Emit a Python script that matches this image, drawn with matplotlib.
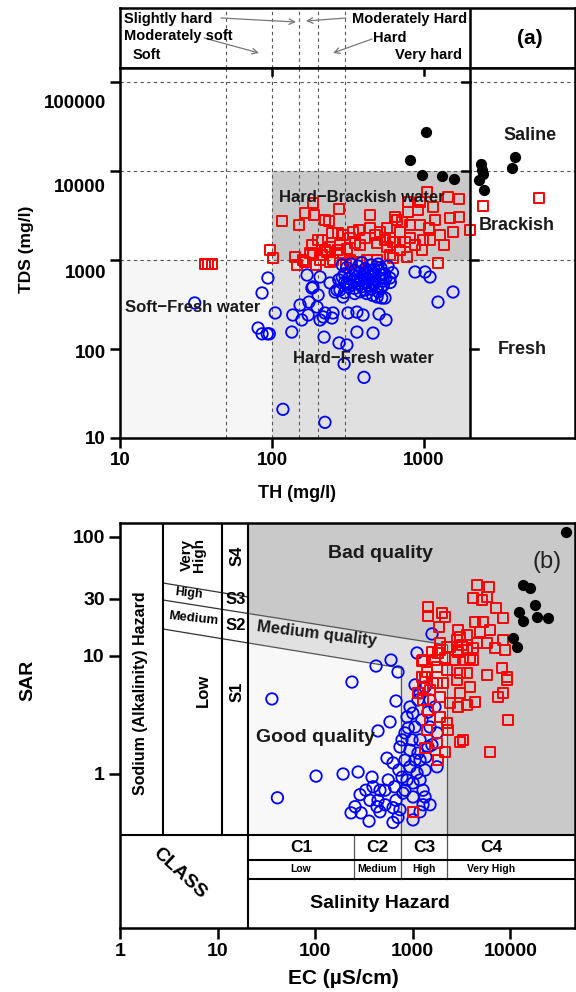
import matplotlib
matplotlib.use("Agg")
import matplotlib.pyplot as plt
from matplotlib.patches import Rectangle, Polygon
from matplotlib.ticker import NullLocator, FixedLocator, FixedFormatter
from matplotlib.transforms import blended_transform_factory, ScaledTranslation
import numpy as np

plt.rcParams['font.family'] = ['Liberation Sans', 'DejaVu Sans']
plt.rcParams['font.weight'] = 'bold'

# ---------------- Panel (a) data: TH (mg/l), TDS (mg/l) ----------------
a_blue = [(31, 329), (86, 426), (94, 628), (105, 254), (81, 172), (86, 148), (93, 148), (96, 148),
          (135, 155), (137, 241), (153, 312), (157, 212), (170, 678), (175, 337), (173, 241), (186, 498),
          (207, 644), (201, 404), (207, 212), (220, 136), (223, 254), (248, 223), (252, 254), (241, 552),
          (260, 437), (276, 117), (311, 111), (298, 68), (316, 254), (362, 155), (362, 260), (397, 241),
          (462, 151), (403, 48), (506, 247), (562, 212), (491, 384), (554, 374), (597, 628), (873, 733),
          (1016, 733), (1095, 644), (1236, 337), (1552, 437), (118, 21), (223, 15),
          (183, 484), (198, 296), (217, 229), (268, 460), (293, 384), (527, 374),
          (290, 880), (310, 820), (330, 900), (350, 760), (370, 850), (390, 930), (410, 800), (430, 720),
          (450, 880), (470, 780), (500, 900), (520, 820), (550, 700), (580, 850), (300, 700), (320, 620),
          (340, 680), (360, 600), (380, 720), (400, 640), (420, 560), (440, 660), (460, 600), (480, 700),
          (510, 620), (540, 580), (300, 560), (330, 520), (350, 480), (370, 540), (390, 500), (410, 460),
          (430, 520), (450, 470), (470, 540), (490, 500), (520, 480), (280, 460), (300, 430), (320, 500),
          (345, 580), (365, 660), (385, 590), (405, 700), (425, 620), (445, 760), (465, 690), (485, 830),
          (505, 760), (530, 680), (560, 620), (290, 640), (310, 540), (275, 600), (350, 420), (380, 440),
          (420, 420), (460, 400), (500, 440), (540, 520), (600, 560), (620, 720)]
a_red = [(116, 2740), (151, 2475), (186, 4370), (189, 3205), (223, 2815), (237, 2740), (276, 3745),
         (165, 3375), (97, 1295), (102, 1052), (213, 1680), (248, 2010), (272, 2010), (293, 1910),
         (341, 2065), (352, 1550), (280, 1475), (241, 1400), (441, 3205), (441, 2290), (476, 1910),
         (571, 2290), (491, 1550), (554, 1680), (645, 3040), (664, 2815), (571, 1400), (625, 1595),
         (750, 1595), (809, 1765), (785, 4490), (914, 3650), (941, 4490), (1047, 5810), (1146, 3950),
         (785, 3460), (809, 2475), (941, 2475), (1079, 2290), (985, 1680), (970, 1295), (1438, 5100),
         (1698, 4850), (1483, 2965), (1698, 3040), (2009, 2175), (1236, 925), (142, 1080), (178, 1200),
         (160, 1000), (207, 1000), (252, 1000), (326, 1000), (422, 1000), (491, 1000), (625, 1052),
         (773, 1080), (36, 902), (38, 902), (40, 902), (146, 880), (186, 1200), (213, 1140), (230, 1230),
         (272, 1295), (336, 950), (2445, 4050), (5715, 4980), (165, 950), (195, 880), (241, 950),
         (305, 880), (379, 950), (183, 1475), (223, 1295), (311, 1340), (379, 1475), (409, 1765),
         (326, 1765), (201, 1680), (372, 2175), (514, 2065), (597, 1765), (695, 2065), (720, 2700),
         (873, 1475), (1095, 1680), (1274, 1910), (1360, 1475), (1180, 2815), (1550, 2065), (695, 1295),
         (597, 1140), (280, 1200)]
a_black = [(1031, 27400), (809, 13300), (970, 9020), (1313, 8790), (1575, 8130), (2370, 12000),
           (2410, 10270), (2302, 7925), (2483, 6118), (2445, 9250), (3971, 14350), (3793, 10800)]

th_class_bounds = [50, 100, 150, 200, 300]
tds_class_bounds = [1000, 10000, 100000]
th_limit = 2000
a_xticks = [10, 100, 1000]
a_yticks = [10, 100, 1000, 10000, 100000]

# ---------------- Panel (b) data: EC (uS/cm), SAR ----------------
b_blue = [(36, 4.30), (41, 0.63), (238, 5.97), (420, 8.15), (598, 9.16), (705, 7.26), (673, 4.13),
          (584, 2.75), (440, 2.31), (102, 0.96), (193, 1.0), (275, 1.04), (1573, 15.2), (1104, 10.5),
          (1054, 5.64), (288, 0.67), (233, 0.47), (295, 0.47), (356, 0.40), (256, 0.53), (430, 0.53),
          (519, 0.55), (627, 0.52), (627, 0.39), (705, 0.43), (382, 0.94), (391, 0.78), (461, 0.73),
          (544, 1.36), (627, 1.24), (739, 1.69), (832, 2.22), (873, 3.03), (936, 3.68), (1186, 4.83),
          (1334, 5.42), (1500, 4.21), (1687, 3.68), (1770, 2.22), (1770, 1.15), (1432, 1.69), (1130, 1.50),
          (936, 1.15), (775, 0.94), (1005, 0.84), (1273, 0.73), (1334, 0.64), (1273, 0.55), (1005, 0.64),
          (794, 0.69), (873, 0.89), (1104, 1.02), (1186, 1.31), (982, 1.94), (1054, 2.49), (1186, 1.94),
          (1500, 2.49), (832, 1.31), (936, 1.59), (1054, 1.31), (1334, 1.08), (1186, 0.89), (832, 0.73),
          (673, 0.60), (739, 0.50), (519, 0.73), (440, 0.60), (560, 0.89), (720, 1.08), (775, 1.94),
          (900, 2.45), (1000, 3.26), (1130, 4.21), (1240, 2.86), (1430, 3.33), (1570, 1.76), (1360, 1.39),
          (650, 0.78), (461, 0.48), (364, 0.60), (330, 0.73), (1005, 0.41), (1186, 0.48), (1500, 0.55)]
b_red = [(4545, 39.4), (6035, 37.8), (4140, 30.6), (5117, 29.4), (5760, 31.2), (7115, 25.2), (1432, 25.7),
         (1432, 21.5), (1990, 22.8), (2137, 21.1), (1853, 17.4), (2904, 16.4), (4335, 19.2), (5240, 19.2),
         (6180, 16.4), (8390, 20.7), (4884, 15.8), (3589, 14.9), (2837, 13.5), (3045, 14.3), (4545, 12.7),
         (5760, 12.7), (6950, 11.6), (8810, 11.1), (8390, 13.5), (4140, 11.6), (3589, 11.1), (2904, 10.7),
         (2239, 11.8), (1899, 12.7), (1811, 10.5), (1573, 10.7), (1273, 9.16), (1687, 9.16), (2137, 9.5),
         (2705, 9.16), (3267, 9.16), (3854, 9.5), (8200, 7.85), (9230, 6.59), (5760, 6.84), (3045, 7.11),
         (2239, 7.54), (1770, 8.0), (1397, 7.26), (1242, 6.59), (1242, 9.0), (1899, 11.1), (2404, 11.8),
         (3192, 12.3), (4140, 9.16), (9230, 6.21), (7460, 4.47), (8390, 4.83), (9450, 2.86), (6180, 1.53),
         (3267, 1.94), (3045, 1.86), (2239, 2.69), (2296, 2.35), (1899, 3.03), (1500, 2.86), (1397, 2.35),
         (1432, 3.47), (1273, 4.21), (1273, 5.32), (1500, 5.11), (1770, 5.86), (2037, 5.86), (2837, 6.21),
         (3589, 7.11), (3854, 5.42), (3045, 4.83), (3589, 3.82), (4335, 4.05), (2904, 3.68), (2404, 3.97),
         (1899, 4.47), (1610, 5.86), (1334, 1.66), (1770, 1.83), (2137, 1.53), (1811, 1.31), (1005, 0.48),
         (1334, 6.59), (1130, 4.83)]
b_black = [(37150, 110), (13460, 39.4), (15880, 37.1), (17870, 26.7), (12250, 23.3), (13460, 19.6),
           (18730, 21.1), (24270, 20.7), (10640, 14.1), (11690, 11.8)]

ec_class_bounds = [250, 750, 2250]
ec_class_names = ['C1', 'C2', 'C3', 'C4']
ec_class_levels = ['Low', 'Medium', 'High', 'Very High']
b_xticks = [1, 10, 100, 1000, 10000]
b_yticks = [1, 10, 30, 100]

# ---------------- layout helpers ----------------
W, H = 576.0, 992.0
fig = plt.figure(figsize=(W / 100, H / 100), dpi=100)


def rect(x0, y0, x1, y1):
    return [x0 / W, 1 - y1 / H, (x1 - x0) / W, (y1 - y0) / H]


def ftext(x, y, s, size, **kw):
    kw.setdefault('ha', 'center')
    kw.setdefault('va', 'center')
    kw.setdefault('fontweight', 'bold')
    fig.text(x / W, 1 - y / H, s, fontsize=size, **kw)


def ax_(px):
    return 10 ** (1 + (px - 120) / 152.0)


def ay_(py):
    return 10 ** (1 + (438 - py) / 89.0)


def bx_(px):
    return 10 ** ((px - 120) / 97.6)


def by_(py):
    return 10 ** ((774 - py) / 118.5)


def bpx(ec):
    return 120 + 97.6 * np.log10(ec)


def line_y(line, px):
    (x1, y1), (x2, y2) = line
    return y1 + (px - x1) * (y2 - y1) / (x2 - x1)


SPW = 1.8
GRID = dict(color='#555555', lw=0.8, ls=(0, (3, 3)))
TXT = '#1a1a1a'
MS_C, MS_S, MS_K = 68, 52, 50

# ======================= Panel (a) =======================
axH = fig.add_axes(rect(120, 8, 575, 68))
axA = fig.add_axes(rect(120, 68, 575, 438))
for ax in (axH, axA):
    ax.set_xscale('log')
    ax.set_xlim(ax_(120), ax_(575))
    for sp in ax.spines.values():
        sp.set_linewidth(SPW)
axH.set_ylim(0, 1)
axH.xaxis.set_major_locator(NullLocator())
axH.xaxis.set_minor_locator(NullLocator())
axH.yaxis.set_major_locator(NullLocator())

axA.set_yscale('log')
axA.set_ylim(ay_(438), ay_(68))

# shaded classes
axA.add_patch(Rectangle((10, 10), 100 - 10, tds_class_bounds[0] - 10, fc='#f6f6f6', ec='none', zorder=0))
axA.add_patch(Rectangle((100, 10), th_limit - 100, tds_class_bounds[0] - 10, fc='#e0e0e0', ec='none', zorder=0))
axA.add_patch(Rectangle((100, tds_class_bounds[0]), th_limit - 100,
                        tds_class_bounds[1] - tds_class_bounds[0], fc='#c9c9c9', ec='none', zorder=0))

for v in th_class_bounds:
    axA.axvline(v, zorder=1, **GRID)
    axH.axvline(v, zorder=1, **GRID)
for h in tds_class_bounds:
    axA.axhline(h, zorder=1, **GRID)
axA.axvline(th_limit, color='k', lw=SPW, zorder=6)
axH.axvline(th_limit, color='k', lw=SPW, zorder=6)

# small ticks on the divider
f = 10 ** (8 / 152.0)
for yv in (100000, 10000):
    axA.plot([th_limit / f, th_limit], [yv, yv], color='k', lw=SPW, zorder=6)
for yv in (1000, 100):
    axA.plot([th_limit, th_limit * f], [yv, yv], color='k', lw=SPW, zorder=6)

# points
rx, ry = zip(*a_red)
axA.scatter(rx, ry, marker='s', s=MS_S, facecolors='none', edgecolors='#ff0000', linewidths=1.4, zorder=3)
bxv, byv = zip(*a_blue)
axA.scatter(bxv, byv, marker='o', s=MS_C, facecolors='none', edgecolors='#0000ff', linewidths=1.3, zorder=4)
kx, ky = zip(*a_black)
axA.scatter(kx, ky, marker='o', s=MS_K, facecolors='k', edgecolors='k', zorder=5)

# ticks
axA.xaxis.set_major_locator(FixedLocator(a_xticks))
axA.xaxis.set_major_formatter(FixedFormatter([str(t) for t in a_xticks]))
axA.xaxis.set_minor_locator(NullLocator())
axA.yaxis.set_major_locator(FixedLocator(a_yticks))
axA.yaxis.set_major_formatter(FixedFormatter([str(t) for t in a_yticks]))
axA.yaxis.set_minor_locator(NullLocator())
axA.tick_params(which='major', direction='out', length=7, width=SPW, labelsize=13.5, pad=3)
# the original's y labels sit a little below their ticks for the upper decades
label_drop_px = [0, 3, 12, 15, 19]
fig.canvas.draw()
for lab, d in zip(axA.get_yticklabels(), label_drop_px):
    lab.set_transform(lab.get_transform() + ScaledTranslation(0, -d / 100.0, fig.dpi_scale_trans))
trA = blended_transform_factory(axA.transData, axA.transAxes)
for xv in (100, 1000):
    axA.plot([xv, xv], [1, 1 - 7 / 370.0], transform=trA, color='k', lw=SPW, clip_on=False, zorder=6)

# texts panel a
ftext(362, 198, 'Hard\u2212Brackish water', 12, color=TXT)
ftext(125, 307, 'Soft\u2212Fresh water', 12, color=TXT, ha='left')
ftext(363, 359, 'Hard\u2212Fresh water', 12, color=TXT)
ftext(530, 135, 'Saline', 13, color=TXT)
ftext(517, 225, 'Brackish', 13, color=TXT)
ftext(522, 350, 'Fresh', 13, color=TXT)
ftext(530, 39, '(a)', 15, color='k')
ftext(124, 19, 'Slightly hard', 10.5, ha='left')
ftext(124, 36, 'Moderately soft', 10.5, ha='left')
ftext(133, 55, 'Soft', 10.5, ha='left')
ftext(467, 19, 'Moderately Hard', 10.5, ha='right')
ftext(390, 38, 'Hard', 10.5)
ftext(462, 55, 'Very hard', 10.5, ha='right')

arrow_kw = dict(arrowstyle='->', color='#777777', lw=0.9, shrinkA=0, shrinkB=0)
for (x0, y0), (x1, y1) in [((221, 18), (296, 22)), ((204, 38), (259, 53)),
                           ((346, 18), (306, 21)), ((372, 39), (333, 53))]:
    axH.annotate('', xy=(x1 / W, 1 - y1 / H), xycoords='figure fraction',
                 xytext=(x0 / W, 1 - y0 / H), textcoords='figure fraction', arrowprops=arrow_kw)

ftext(27, 249, 'TDS (mg/l)', 12.5, rotation=90)
ftext(297, 493, 'TH (mg/l)', 13)

# ======================= Panel (b) =======================
axB = fig.add_axes(rect(120, 523, 575, 928))
axB.set_xscale('log')
axB.set_yscale('log')
axB.set_xlim(bx_(120), bx_(575))
axB.set_ylim(by_(928), by_(523))
for sp in axB.spines.values():
    sp.set_linewidth(SPW)

s12 = [(163, 629), (bpx(ec_class_bounds[1]), 668)]
s23 = [(163, 600), (bpx(ec_class_bounds[2]), 645)]
s34 = [(163, 583), (248, 597)]
PL, PB = 248, 835   # plot-area left edge / bottom (pixels)

x_pl = bx_(PL)
y_pb = by_(PB)
e2, e3 = ec_class_bounds[1], ec_class_bounds[2]
axB.add_patch(Rectangle((x_pl, y_pb), bx_(575) - x_pl, by_(523) - y_pb, fc='#c9c9c9', ec='none', zorder=0))
med = [(x_pl, by_(line_y(s12, PL))), (e2, by_(line_y(s12, bpx(e2)))), (e2, y_pb), (e3, y_pb),
       (e3, by_(line_y(s23, bpx(e3)))), (x_pl, by_(line_y(s23, PL)))]
axB.add_patch(Polygon(med, closed=True, fc='#e1e1e1', ec='none', zorder=0))
good = [(x_pl, y_pb), (e2, y_pb), (e2, by_(line_y(s12, bpx(e2)))), (x_pl, by_(line_y(s12, PL)))]
axB.add_patch(Polygon(good, closed=True, fc='#f8f8f8', ec='none', zorder=0))

ZL = dict(color='#555555', lw=0.9, zorder=1)
axB.plot([x_pl, e2], [by_(line_y(s12, PL)), by_(line_y(s12, bpx(e2)))], **ZL)
axB.plot([x_pl, e3], [by_(line_y(s23, PL)), by_(line_y(s23, bpx(e3)))], **ZL)
axB.plot([e2, e2], [y_pb, by_(line_y(s12, bpx(e2)))], **ZL)
axB.plot([e3, e3], [y_pb, by_(line_y(s23, bpx(e3)))], **ZL)
TL = dict(color='#333333', lw=0.9, zorder=2)
for ln in (s12, s23, s34):
    axB.plot([bx_(163), x_pl], [by_(line_y(ln, 163)), by_(line_y(ln, PL))], **TL)

# table frame
BL = dict(color='k', lw=1.5, zorder=7)
for px in (163, 222):
    axB.plot([bx_(px), bx_(px)], [y_pb, by_(523)], **BL)
axB.plot([x_pl, x_pl], [by_(928), by_(523)], **BL)
axB.plot([bx_(120), bx_(575)], [y_pb, y_pb], **BL)
for py in (860, 879):
    axB.plot([x_pl, bx_(575)], [by_(py), by_(py)], **BL)
for e in ec_class_bounds:
    axB.plot([e, e], [by_(879), y_pb], color='#555555', lw=0.9, zorder=2)

# points
bx1, by1 = zip(*b_blue)
axB.scatter(bx1, by1, marker='o', s=MS_C, facecolors='none', edgecolors='#0000ff', linewidths=1.3, zorder=3)
rx1, ry1 = zip(*b_red)
axB.scatter(rx1, ry1, marker='s', s=MS_S, facecolors='none', edgecolors='#ff0000', linewidths=1.4, zorder=4)
kx1, ky1 = zip(*b_black)
axB.scatter(kx1, ky1, marker='o', s=MS_K, facecolors='k', edgecolors='k', zorder=5)

axB.xaxis.set_major_locator(FixedLocator(b_xticks))
axB.xaxis.set_major_formatter(FixedFormatter([str(t) for t in b_xticks]))
axB.xaxis.set_minor_locator(NullLocator())
axB.yaxis.set_major_locator(FixedLocator(b_yticks))
axB.yaxis.set_major_formatter(FixedFormatter([str(t) for t in b_yticks]))
axB.yaxis.set_minor_locator(NullLocator())
axB.tick_params(which='major', direction='out', length=8, width=SPW, labelsize=14, pad=3)

# texts panel b
ftext(141, 693, 'Sodium (Alkalinity) Hazard', 11.5, rotation=90)
ftext(193, 555, 'Very\nHigh', 11, rotation=90, linespacing=0.9)
ftext(189, 593, 'High', 9, rotation=-6)
ftext(193, 619, 'Medium', 9.5, rotation=-6)
ftext(203, 690, 'Low', 12, rotation=90)
ftext(237, 556, 'S4', 12, rotation=90)
ftext(236, 600, 'S3', 12)
ftext(236, 626, 'S2', 12)
ftext(237, 692, 'S1', 12, rotation=90)
ftext(380, 553, 'Bad quality', 14, color=TXT)
ftext(547, 562, '(b)', 17, fontweight='normal', color='#222222')
ftext(317, 634, 'Medium quality', 12, rotation=-7, color=TXT)
ftext(316, 738, 'Good quality', 14, color=TXT)
cls_x = [bpx(v) for v in [20.5] + ec_class_bounds + [45900]]
for i, (nm, lv) in enumerate(zip(ec_class_names, ec_class_levels)):
    xc = 0.5 * (cls_x[i] + cls_x[i + 1])
    if i == 3:
        xc = 491
    ftext(xc, 847, nm, 12.5)
    ftext(xc, 869, lv, 7.5)
ftext(380, 903, 'Salinity Hazard', 14)
ftext(180, 873, 'CLASS', 14, rotation=-43)
ftext(28, 680, 'SAR', 14, rotation=90)
ftext(343, 978, 'EC (\u00b5S/cm)', 15)

fig.savefig('out.png', dpi=100)
